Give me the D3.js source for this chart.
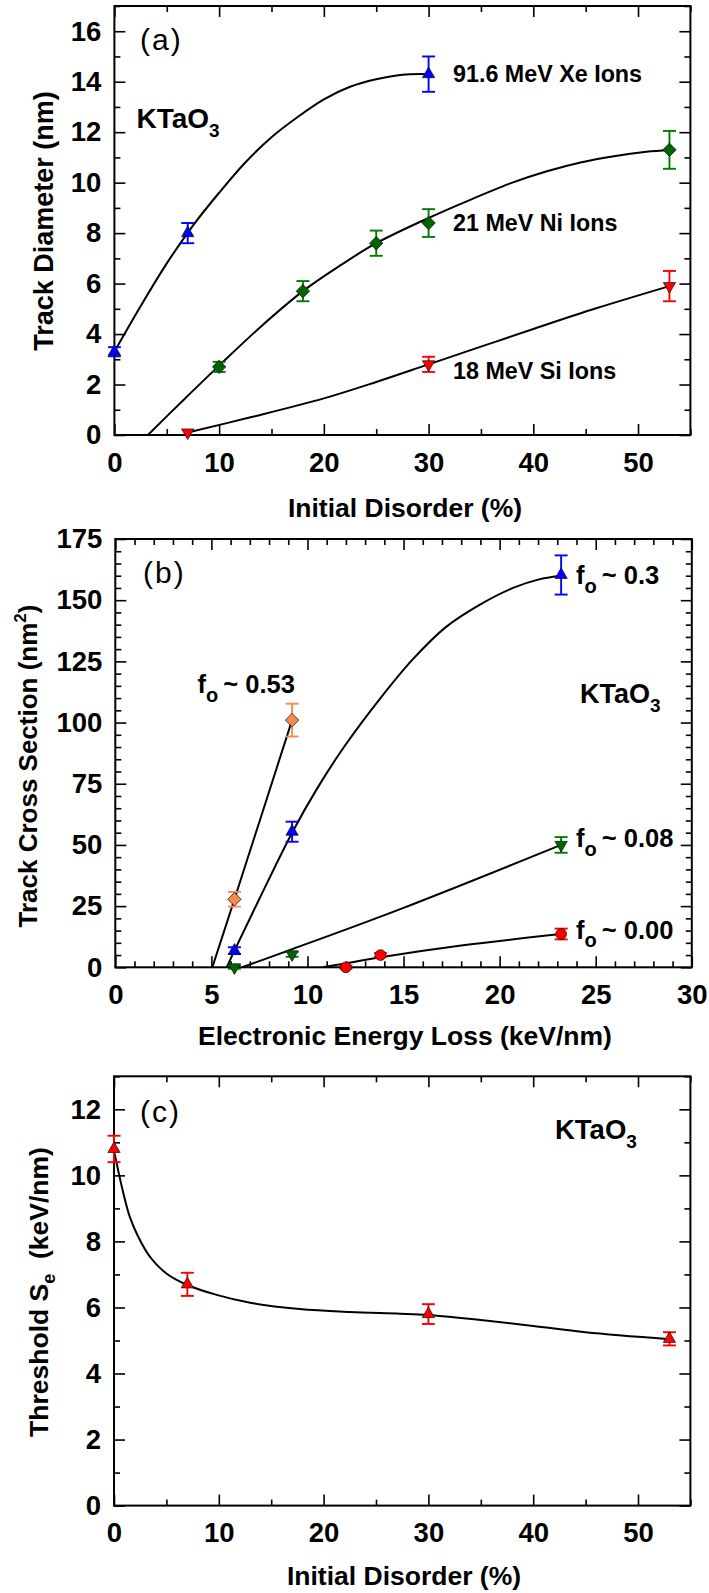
<!DOCTYPE html>
<html>
<head>
<meta charset="utf-8">
<script src="https://cdn.jsdelivr.net/npm/d3@7"></script>
<style>
  html, body { margin: 0; padding: 0; background: #fff; }
  svg { display: block; }
  text { font-family: 'Liberation Sans', Arial, Helvetica, sans-serif; }
</style>
</head>
<body>
<svg id="chart" width="709" height="1593"></svg>
<script>
// ---------- (a) Track diameter vs initial disorder: [disorder %, diameter nm, error] ----------
const xeIons = [[0, 3.3, 0.18], [7, 8.0, 0.4], [30, 14.3, 0.7]];
const niIons = [[10, 2.7, 0.2], [18, 5.7, 0.4], [25, 7.6, 0.5], [30, 8.4, 0.55], [53, 11.3, 0.75]];
const siIons = [[7, 0.1, 0], [30, 2.8, 0.3], [53, 5.9, 0.6]];
// fitted trend lines
const xeFit = [[0, 3.3], [2.5, 5.1], [5, 6.8], [7.5, 8.3], [10, 9.6], [12.5, 10.8], [15, 11.8],
               [17.5, 12.6], [20, 13.3], [22.5, 13.8], [25, 14.1], [27.5, 14.28], [30, 14.3]];
const niFit = [[3.2, 0], [6.5, 1.35], [10, 2.75], [14, 4.3], [18, 5.7], [21.5, 6.7], [25, 7.6],
               [30, 8.6], [33.3, 9.2], [38, 10.0], [41.3, 10.45], [44.5, 10.8], [47.7, 11.05],
               [50.8, 11.22], [53, 11.29]];
const siFit = [[7, 0.1], [13, 0.7], [20, 1.45], [25, 2.1], [30, 2.8], [35, 3.5], [40, 4.2], [46, 5.02], [53, 5.9]];
const xTicksA = [0, 10, 20, 30, 40, 50];
const yTicksA = [0, 2, 4, 6, 8, 10, 12, 14, 16];

// ---------- (b) Track cross section vs electronic energy loss: [Se keV/nm, area nm^2, error] ----------
const f053 = [[6.2, 27.8, 3.0], [9.2, 101, 6.7]];
const f030 = [[6.2, 6.8, 1.4], [9.2, 55.4, 4.1], [23.2, 160.3, 8]];
const f008 = [[6.2, 0, 0.6], [9.2, 5.3, 1.0], [23.2, 50, 3.2]];
const f000 = [[12.0, 0, 0.6], [13.8, 5.0, 0.8], [23.2, 13.6, 2.2]];
const f053Fit = [[5.05, 0], [6.2, 27.8], [9.2, 101]];
const f030Fit = [[5.8, 0], [6.2, 6.8], [7.5, 28], [9.2, 55], [10.5, 73], [11.9, 90], [13.8, 110],
                 [15.5, 126], [17.2, 139], [19, 148.3], [20.7, 155], [22.1, 158.6], [23.2, 160]];
const f008Fit = [[6.6, 0], [9.2, 7.4], [15, 24.3], [23.2, 50]];
const f000Fit = [[10.8, 0], [12, 1.6], [13.8, 4.1], [18, 8.9], [23.2, 13.6]];
const xTicksB = [0, 5, 10, 15, 20, 25, 30];
const yTicksB = [0, 25, 50, 75, 100, 125, 150, 175];

// ---------- (c) Threshold Se vs initial disorder: [disorder %, Se keV/nm, error] ----------
const threshold = [[0, 10.8, 0.4], [7, 6.7, 0.35], [30, 5.8, 0.3], [53, 5.05, 0.2]];
const thresholdFit = [[0, 10.75], [0.4, 10.15], [0.9, 9.45], [1.5, 8.75], [2.3, 8.15], [3.4, 7.55],
                      [5, 7.03], [7, 6.68], [9.8, 6.38], [13, 6.14], [17.7, 5.95], [22.5, 5.86],
                      [27.3, 5.81], [30, 5.77], [35, 5.62], [40, 5.44], [45, 5.25], [53, 5.04]];
const xTicksC = [0, 10, 20, 30, 40, 50];
const yTicksC = [0, 2, 4, 6, 8, 10, 12];

// ---------- colours ----------
const BLUE = '#0000ff', GREEN = '#007a00', GREEN_DK = '#006400', RED = '#ff0000', ORANGE = '#f98a4f';

const svg = d3.select('#chart');
svg.append('rect').attr('width', 709).attr('height', 1593).attr('fill', '#fff');

const MAJ = 11, MIN = 6;
const TICK_FONT = 27.5;

function drawFrame(g, x, y, xMajor, xMinor, yMajor, yMinor) {
  const [x0, x1] = x.range();
  const [y0, y1] = y.range();
  const fmt = d3.format('d');
  const style = sel => {
    sel.select('.domain').remove();
    sel.selectAll('.tick line').attr('stroke', '#000').attr('stroke-width', 1.6);
    sel.selectAll('.tick text').attr('fill', '#000')
      .style('font-size', TICK_FONT + 'px').style('font-weight', 'bold')
      .style('font-family', "'Liberation Sans', Arial, sans-serif");
  };
  const blank = () => '';
  // bottom
  g.append('g').attr('transform', `translate(0,${y0})`)
    .call(d3.axisBottom(x).tickValues(xMajor).tickSize(-MAJ).tickSizeOuter(0).tickPadding(17.2).tickFormat(fmt)).call(style);
  g.append('g').attr('transform', `translate(0,${y0})`)
    .call(d3.axisBottom(x).tickValues(xMinor).tickSize(-MIN).tickSizeOuter(0).tickFormat(blank)).call(style);
  // top
  g.append('g').attr('transform', `translate(0,${y1})`)
    .call(d3.axisTop(x).tickValues(xMajor).tickSize(-MAJ).tickSizeOuter(0).tickFormat(blank)).call(style);
  g.append('g').attr('transform', `translate(0,${y1})`)
    .call(d3.axisTop(x).tickValues(xMinor).tickSize(-MIN).tickSizeOuter(0).tickFormat(blank)).call(style);
  // left
  g.append('g').attr('transform', `translate(${x0},0)`)
    .call(d3.axisLeft(y).tickValues(yMajor).tickSize(-MAJ).tickSizeOuter(0).tickPadding(13).tickFormat(fmt)).call(style);
  g.append('g').attr('transform', `translate(${x0},0)`)
    .call(d3.axisLeft(y).tickValues(yMinor).tickSize(-MIN).tickSizeOuter(0).tickFormat(blank)).call(style);
  // right
  g.append('g').attr('transform', `translate(${x1},0)`)
    .call(d3.axisRight(y).tickValues(yMajor).tickSize(-MAJ).tickSizeOuter(0).tickFormat(blank)).call(style);
  g.append('g').attr('transform', `translate(${x1},0)`)
    .call(d3.axisRight(y).tickValues(yMinor).tickSize(-MIN).tickSizeOuter(0).tickFormat(blank)).call(style);
  // box
  g.append('rect').attr('x', x0).attr('y', y1).attr('width', x1 - x0).attr('height', y0 - y1)
    .attr('fill', 'none').attr('stroke', '#000').attr('stroke-width', 2);
}

function minorTicks(domain, step, majorStep) {
  const out = [];
  for (let v = domain[0]; v <= domain[1] + 1e-9; v += step) {
    const r = Math.round(v * 1000) / 1000;
    if (Math.abs(r / majorStep - Math.round(r / majorStep)) > 1e-6) out.push(r);
  }
  return out;
}

function drawFit(g, x, y, pts) {
  const line = d3.line().x(d => x(d[0])).y(d => y(d[1])).curve(d3.curveCatmullRom.alpha(0.5));
  g.append('path').datum(pts).attr('d', line)
    .attr('fill', 'none').attr('stroke', '#000').attr('stroke-width', 2);
}

function drawErrors(g, x, y, pts, color) {
  const cap = 6.5;
  const eg = g.append('g').attr('stroke', color).attr('stroke-width', 1.9);
  pts.filter(d => d[2] > 0).forEach(d => {
    const cx = x(d[0]), ya = y(d[1] - d[2]), yb = y(d[1] + d[2]);
    eg.append('line').attr('x1', cx).attr('x2', cx).attr('y1', ya).attr('y2', yb);
    eg.append('line').attr('x1', cx - cap).attr('x2', cx + cap).attr('y1', ya).attr('y2', ya);
    eg.append('line').attr('x1', cx - cap).attr('x2', cx + cap).attr('y1', yb).attr('y2', yb);
  });
}

function drawMarkers(g, x, y, pts, kind, fill) {
  let type, size, rot = 0;
  if (kind === 'up') { type = d3.symbolTriangle; size = 66; }
  else if (kind === 'down') { type = d3.symbolTriangle; size = 66; rot = 180; }
  else if (kind === 'diamond') { type = d3.symbolSquare; size = 90; rot = 45; }
  else { type = d3.symbolCircle; size = 92; }
  const sym = d3.symbol().type(type).size(size);
  g.append('g').selectAll('path').data(pts).join('path')
    .attr('d', sym)
    .attr('transform', d => `translate(${x(d[0])},${y(d[1])}) rotate(${rot})`)
    .attr('fill', fill).attr('stroke', '#111').attr('stroke-width', 0.7);
}

function label(g, x, y, txt, size, weight) {
  return g.append('text').attr('x', x).attr('y', y).attr('fill', '#000')
    .style('font-size', size + 'px').style('font-weight', weight || 'bold').text(txt);
}

function subLabel(g, x, y, main, sub, size, subSize, shift) {
  const t = g.append('text').attr('x', x).attr('y', y).attr('fill', '#000')
    .style('font-size', size + 'px').style('font-weight', 'bold');
  t.append('tspan').text(main);
  t.append('tspan').attr('dy', shift).style('font-size', subSize + 'px').text(sub);
  return t;
}

function foLabel(g, x, y, value) {
  const t = g.append('text').attr('x', x).attr('y', y).attr('fill', '#000')
    .style('font-size', '25.5px').style('font-weight', 'bold');
  t.append('tspan').text('f');
  t.append('tspan').attr('dy', 8.4).style('font-size', '20px').text('o');
  t.append('tspan').attr('dy', -8.4).attr('dx', -2).text(' ~ ' + value);
}

// ================= panel (a) =================
{
  const g = svg.append('g');
  const x = d3.scaleLinear().domain([0, 55]).range([114.4, 690.4]);
  const y = d3.scaleLinear().domain([0, 17]).range([435, 6]);
  drawFrame(g, x, y, xTicksA, minorTicks([0, 55], 5, 10), yTicksA, minorTicks([0, 17], 1, 2));

  drawFit(g, x, y, xeFit);
  drawFit(g, x, y, niFit);
  drawFit(g, x, y, siFit);
  drawErrors(g, x, y, xeIons, BLUE);
  drawErrors(g, x, y, niIons, GREEN);
  drawErrors(g, x, y, siIons, RED);
  drawMarkers(g, x, y, xeIons, 'up', BLUE);
  drawMarkers(g, x, y, niIons, 'diamond', GREEN_DK);
  drawMarkers(g, x, y, siIons, 'down', RED);

  label(g, 140, 50, '(a)', 30, 'normal').style('letter-spacing', '2px');
  subLabel(g, 136.5, 128.3, 'KTaO', '3', 28, 19, 8.4);
  label(g, 453, 81.8, '91.6 MeV Xe Ions', 23.3);
  label(g, 453, 231, '21 MeV Ni Ions', 23.3);
  label(g, 453, 378.6, '18 MeV Si Ions', 23.3);

  label(g, 405, 517, 'Initial Disorder (%)', 26.5).attr('text-anchor', 'middle');
  label(g, 0, 0, 'Track Diameter (nm)', 27).attr('text-anchor', 'middle')
    .attr('transform', 'translate(53,221) rotate(-90)');
}

// ================= panel (b) =================
{
  const g = svg.append('g');
  const x = d3.scaleLinear().domain([0, 30]).range([115.3, 691.8]);
  const y = d3.scaleLinear().domain([0, 175]).range([967.3, 539]);
  drawFrame(g, x, y, xTicksB, minorTicks([0, 30], 1, 5), yTicksB, minorTicks([0, 175], 5, 25));

  drawFit(g, x, y, f053Fit);
  drawFit(g, x, y, f030Fit);
  drawFit(g, x, y, f008Fit);
  drawFit(g, x, y, f000Fit);
  drawErrors(g, x, y, f053, ORANGE);
  drawErrors(g, x, y, f030, BLUE);
  drawErrors(g, x, y, f008, GREEN);
  drawErrors(g, x, y, f000, RED);
  drawMarkers(g, x, y, f053, 'diamond', ORANGE);
  drawMarkers(g, x, y, f030, 'up', BLUE);
  drawMarkers(g, x, y, f008, 'down', GREEN_DK);
  drawMarkers(g, x, y, f000, 'circle', RED);

  label(g, 143, 582.5, '(b)', 30, 'normal').style('letter-spacing', '2px');
  subLabel(g, 580, 703.3, 'KTaO', '3', 27, 19, 9);
  foLabel(g, 576, 584.3, '0.3');
  foLabel(g, 576, 847.3, '0.08');
  foLabel(g, 576, 939, '0.00');
  foLabel(g, 197.5, 693.3, '0.53');

  label(g, 405, 1045, 'Electronic Energy Loss (keV/nm)', 26.5).attr('text-anchor', 'middle');
  const t = g.append('text').attr('text-anchor', 'middle').attr('fill', '#000')
    .style('font-size', '26px').style('font-weight', 'bold')
    .attr('transform', 'translate(37,766) rotate(-90)');
  t.append('tspan').text('Track Cross Section (nm');
  t.append('tspan').attr('dy', -11).style('font-size', '17px').text('2');
  t.append('tspan').attr('dy', 11).text(')');
}

// ================= panel (c) =================
{
  const g = svg.append('g');
  const x = d3.scaleLinear().domain([0, 55]).range([114, 690.4]);
  const y = d3.scaleLinear().domain([0, 13]).range([1505.6, 1076.3]);
  drawFrame(g, x, y, xTicksC, minorTicks([0, 55], 5, 10), yTicksC, minorTicks([0, 13], 1, 2));

  drawFit(g, x, y, thresholdFit);
  drawErrors(g, x, y, threshold, RED);
  drawMarkers(g, x, y, threshold, 'up', RED);

  label(g, 140, 1121.5, '(c)', 30, 'normal').style('letter-spacing', '2px');
  subLabel(g, 555, 1138.8, 'KTaO', '3', 27.5, 19, 9);

  label(g, 404, 1585, 'Initial Disorder (%)', 26.5).attr('text-anchor', 'middle');
  const t = g.append('text').attr('text-anchor', 'middle').attr('fill', '#000')
    .style('font-size', '26.5px').style('font-weight', 'bold')
    .attr('transform', 'translate(48,1292) rotate(-90)');
  t.append('tspan').text('Threshold S');
  t.append('tspan').attr('dy', 7).style('font-size', '18px').text('e');
  t.append('tspan').attr('dy', -7).text('\u00a0 (keV/nm)');
}
</script>
</body>
</html>
